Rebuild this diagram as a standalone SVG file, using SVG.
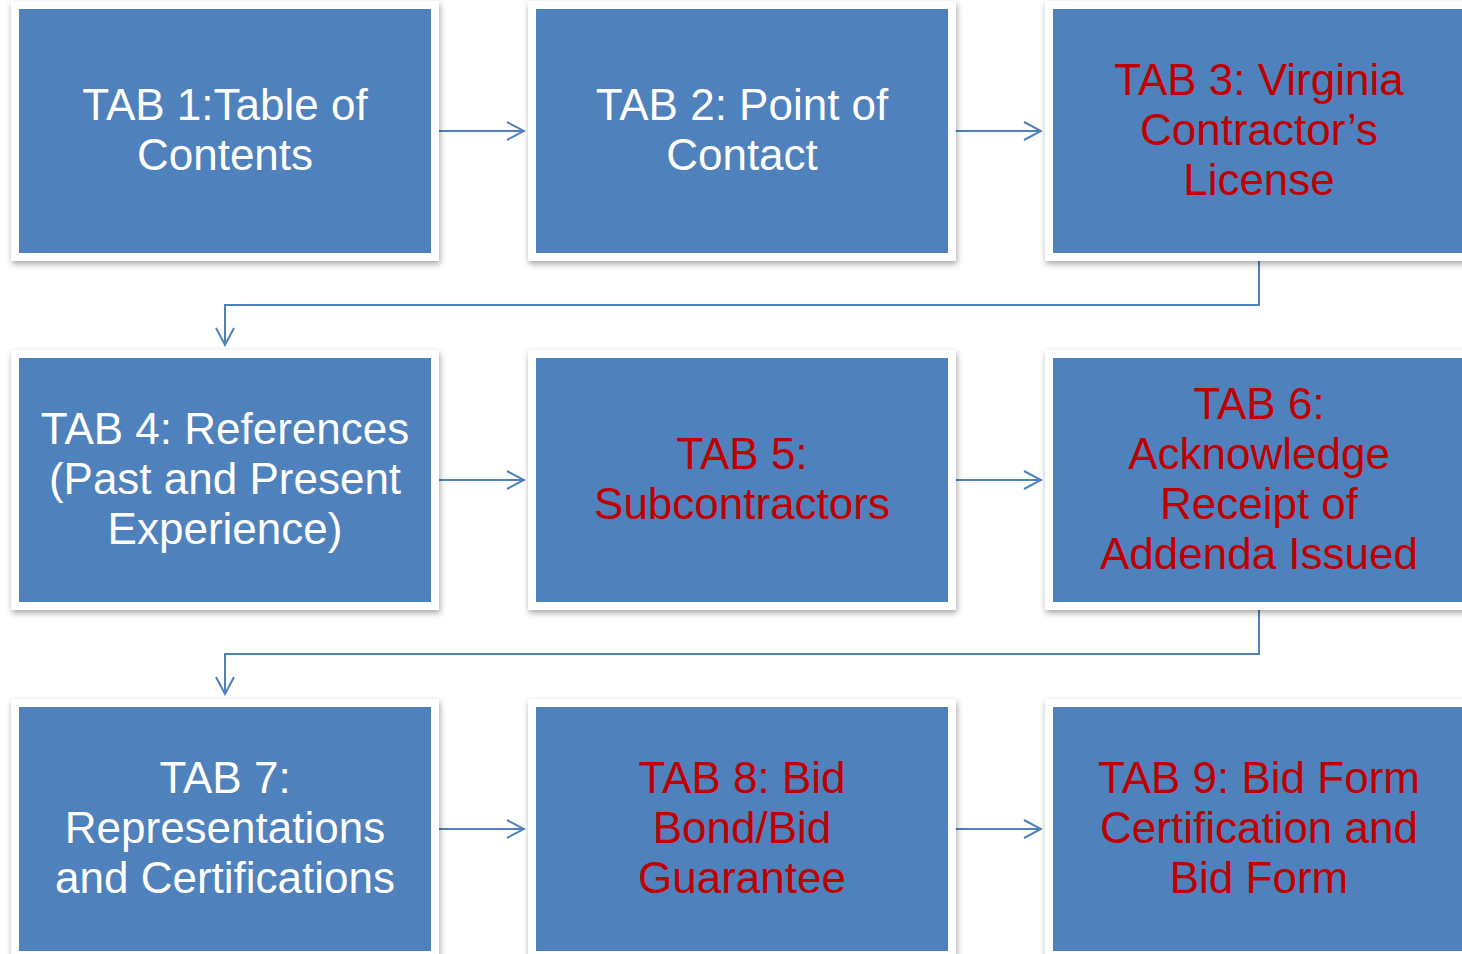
<svg xmlns="http://www.w3.org/2000/svg" width="1462" height="954" viewBox="0 0 1462 954">
<style>
.frame{fill:#ffffff;filter:url(#sh)}
.box{fill:#4F81BD}
.t{font-family:"Liberation Sans",Arial,sans-serif;font-size:44px;text-anchor:middle}
.w{fill:#ffffff}
.r{fill:#C00000}
.c{fill:none;stroke:#4F81BD;stroke-width:2;marker-end:url(#ah)}
</style>
<defs>
<filter id="sh" x="-10%" y="-10%" width="120%" height="125%">
<feDropShadow dx="1" dy="3" stdDeviation="3" flood-color="#000" flood-opacity="0.35"/>
</filter>
<marker id="ah" viewBox="0 0 20 20" refX="18" refY="10" markerWidth="20" markerHeight="20" markerUnits="userSpaceOnUse" orient="auto">
<path d="M1 1 L18 10 L1 19" fill="none" stroke="#4F81BD" stroke-width="2"/>
</marker>
</defs>
<rect width="1462" height="954" fill="#ffffff"/>
<g id="connectors">
<path class="c" d="M439 131 H524"/>
<path class="c" d="M956 131 H1041"/>
<path class="c" d="M1259 261 V305 H225 V345"/>
<path class="c" d="M439 480 H524"/>
<path class="c" d="M956 480 H1041"/>
<path class="c" d="M1259 610 V654 H225 V694"/>
<path class="c" d="M439 829 H524"/>
<path class="c" d="M956 829 H1041"/>
</g>
<g id="tab1">
<rect class="frame" x="11" y="1" width="428" height="260"/>
<rect class="box" x="19" y="9" width="412" height="244"/>
<text class="t w" x="225" y="120">TAB 1:Table of</text>
<text class="t w" x="225" y="170">Contents</text>
</g>
<g id="tab2">
<rect class="frame" x="528" y="1" width="428" height="260"/>
<rect class="box" x="536" y="9" width="412" height="244"/>
<text class="t w" x="742" y="120">TAB 2: Point of</text>
<text class="t w" x="742" y="170">Contact</text>
</g>
<g id="tab3">
<rect class="frame" x="1045" y="1" width="428" height="260"/>
<rect class="box" x="1053" y="9" width="412" height="244"/>
<text class="t r" x="1259" y="95">TAB 3: Virginia</text>
<text class="t r" x="1259" y="145">Contractor’s</text>
<text class="t r" x="1259" y="195">License</text>
</g>
<g id="tab4">
<rect class="frame" x="11" y="350" width="428" height="260"/>
<rect class="box" x="19" y="358" width="412" height="244"/>
<text class="t w" x="225" y="444">TAB 4: References</text>
<text class="t w" x="225" y="494">(Past and Present</text>
<text class="t w" x="225" y="544">Experience)</text>
</g>
<g id="tab5">
<rect class="frame" x="528" y="350" width="428" height="260"/>
<rect class="box" x="536" y="358" width="412" height="244"/>
<text class="t r" x="742" y="469">TAB 5:</text>
<text class="t r" x="742" y="519">Subcontractors</text>
</g>
<g id="tab6">
<rect class="frame" x="1045" y="350" width="428" height="260"/>
<rect class="box" x="1053" y="358" width="412" height="244"/>
<text class="t r" x="1259" y="419">TAB 6:</text>
<text class="t r" x="1259" y="469">Acknowledge</text>
<text class="t r" x="1259" y="519">Receipt of</text>
<text class="t r" x="1259" y="569">Addenda Issued</text>
</g>
<g id="tab7">
<rect class="frame" x="11" y="699" width="428" height="260"/>
<rect class="box" x="19" y="707" width="412" height="244"/>
<text class="t w" x="225" y="793">TAB 7:</text>
<text class="t w" x="225" y="843">Representations</text>
<text class="t w" x="225" y="893">and Certifications</text>
</g>
<g id="tab8">
<rect class="frame" x="528" y="699" width="428" height="260"/>
<rect class="box" x="536" y="707" width="412" height="244"/>
<text class="t r" x="742" y="793">TAB 8: Bid</text>
<text class="t r" x="742" y="843">Bond/Bid</text>
<text class="t r" x="742" y="893">Guarantee</text>
</g>
<g id="tab9">
<rect class="frame" x="1045" y="699" width="428" height="260"/>
<rect class="box" x="1053" y="707" width="412" height="244"/>
<text class="t r" x="1259" y="793">TAB 9: Bid Form</text>
<text class="t r" x="1259" y="843">Certification and</text>
<text class="t r" x="1259" y="893">Bid Form</text>
</g>
</svg>
